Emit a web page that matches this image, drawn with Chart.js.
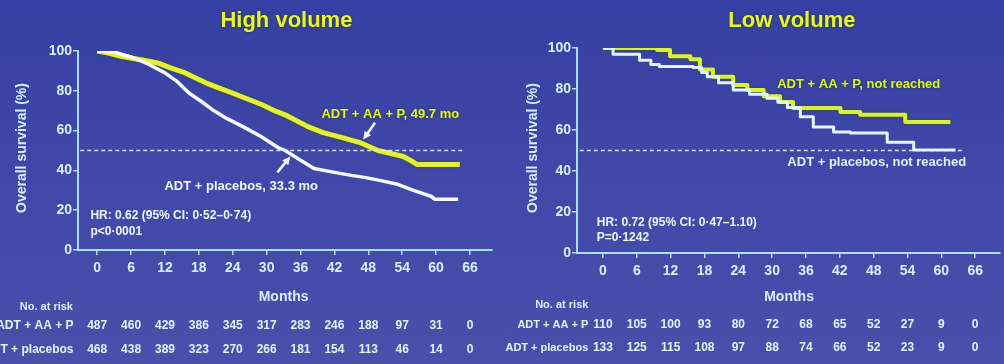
<!DOCTYPE html>
<html>
<head>
<meta charset="utf-8">
<script src="https://cdn.jsdelivr.net/npm/chart.js@4.4.1/dist/chart.umd.min.js"></script>
<style>
  html, body { margin: 0; padding: 0; }
  body {
    width: 1004px; height: 364px; overflow: hidden; position: relative;
    background: linear-gradient(180deg, #363fa3 0%, #4047a8 45%, #4b4fab 100%);
  }
  .half { position: absolute; top: 0; width: 502px; height: 364px; }
</style>
</head>
<body>
<div class="half" style="left:0"><canvas id="hv" width="502" height="364"></canvas></div>
<div class="half" style="left:502px"><canvas id="lv" width="502" height="364"></canvas></div>
<script>
// KM 曲线数据（月, 生存率%）
const xTicks = [0, 6, 12, 18, 24, 30, 36, 42, 48, 54, 60, 66];
const yTicks = [0, 20, 40, 60, 80, 100];
const refLine = 50;

// High volume
const hvAbiX = [0, 2, 4, 5.9, 8, 10.7, 13, 15.6, 19.2, 21.5, 23.8, 26.5, 29.2, 31.4, 33.6, 37.3, 40, 43.4, 46.5, 49.7, 52, 54.2, 55.5, 56.6, 64.2];
const hvAbiY = [100, 99, 97.5, 96.5, 95.5, 94, 91.5, 89, 84, 81.5, 79, 76, 73, 70, 67.5, 62, 59, 56.5, 54, 50, 48.5, 47, 45, 43, 43];
const hvPboX = [0, 3, 6, 9, 12, 14, 16.2, 18.5, 20.4, 23, 25.8, 29, 32, 33.3, 35.5, 38.4, 42, 45, 47.3, 50, 53.2, 56, 59.1, 59.8, 63.9];
const hvPboY = [100, 99.5, 97, 93.5, 89, 85, 79, 74.5, 70.5, 66, 62, 57, 51.5, 50, 46, 41, 39, 37.5, 36.5, 35, 33, 30, 27, 25.5, 25.5];
const hvRiskAbi = [487, 460, 429, 386, 345, 317, 283, 246, 188, 97, 31, 0];
const hvRiskPbo = [468, 438, 389, 323, 270, 266, 181, 154, 113, 46, 14, 0];

// Low volume
const lvAbiX = [0, 9.6, 11.9, 15.5, 17.2, 19.5, 23.1, 25.6, 28.5, 31.4, 33.7, 42.1, 45.6, 53.6, 61.6];
const lvAbiY = [100, 99, 96, 94.5, 89.5, 86, 82, 79.5, 76.5, 73.7, 70.7, 68.8, 67.5, 63.9, 63.9];
const lvPboX = [0, 1.8, 6.5, 8.5, 10, 16, 17.5, 18.5, 20.5, 23.1, 26, 29.1, 31, 32.7, 35, 37.3, 40.9, 43.9, 50.4, 55.1, 62.5];
const lvPboY = [100, 97, 94, 92, 91, 90.5, 88, 86, 83, 79.5, 77.5, 75.5, 73.5, 71, 66.5, 61.5, 59, 58.5, 54, 50.2, 50.2];
const lvRiskAbi = [110, 105, 100, 93, 80, 72, 68, 65, 52, 27, 9, 0];
const lvRiskPbo = [133, 125, 115, 108, 97, 88, 74, 66, 52, 23, 9, 0];

const FONT = "'Liberation Sans', Arial, sans-serif";
const AXIS = '#a9def0';
const TXT = '#d4effa';

const pts = (xs, ys) => xs.map((x, i) => ({ x, y: ys[i] }));

// 文字、箭头、风险表
const slidePlugin = {
  id: 'slide',
  beforeDatasetDraw(chart, args) {
    const ds = chart.data.datasets[args.index];
    chart.ctx.save();
    if (ds.glow) {
      chart.ctx.shadowColor = ds.glow;
      chart.ctx.shadowBlur = 3;
    }
  },
  afterDatasetDraw(chart) {
    chart.ctx.restore();
  },
  afterDraw(chart, args, o) {
    const { ctx, scales: { x, y } } = chart;
    const put = (text, px, py, color, size, align, glow) => {
      ctx.save();
      ctx.font = 'bold ' + size + 'px ' + FONT;
      ctx.fillStyle = color;
      ctx.textAlign = align || 'center';
      ctx.textBaseline = 'middle';
      if (glow) { ctx.shadowColor = glow; ctx.shadowBlur = 3; }
      ctx.fillText(text, px, py);
      ctx.restore();
    };

    // 标题
    put(o.title, x.getPixelForValue(33.5), 21, '#e6f23c', 22, 'center', 'rgba(40,70,0,0.95)');

    // 坐标轴标题
    put('Months', x.getPixelForValue(33), 297, TXT, 14);
    ctx.save();
    ctx.translate(o.yTitleX, 148);
    ctx.rotate(-Math.PI / 2);
    put('Overall survival (%)', 0, 0, TXT, 14);
    ctx.restore();

    // 曲线标注
    o.notes.forEach(n => put(n.text, x.getPixelForValue(n.m), y.getPixelForValue(n.v), n.color, n.size || 13, n.align, n.glow));

    // 箭头
    (o.arrows || []).forEach(a => {
      const x1 = x.getPixelForValue(a.from[0]), y1 = y.getPixelForValue(a.from[1]);
      const x2 = x.getPixelForValue(a.to[0]), y2 = y.getPixelForValue(a.to[1]);
      const ang = Math.atan2(y2 - y1, x2 - x1);
      ctx.save();
      ctx.strokeStyle = '#f4f8ff';
      ctx.fillStyle = '#f4f8ff';
      ctx.lineWidth = 2.5;
      ctx.beginPath();
      ctx.moveTo(x1, y1);
      ctx.lineTo(x2 - 5 * Math.cos(ang), y2 - 5 * Math.sin(ang));
      ctx.stroke();
      ctx.beginPath();
      ctx.moveTo(x2, y2);
      ctx.lineTo(x2 - 9 * Math.cos(ang - 0.45), y2 - 9 * Math.sin(ang - 0.45));
      ctx.lineTo(x2 - 9 * Math.cos(ang + 0.45), y2 - 9 * Math.sin(ang + 0.45));
      ctx.closePath();
      ctx.fill();
      ctx.restore();
    });

    // No. at risk
    const r = o.risk;
    put('No. at risk', x.getPixelForValue(r.headM), r.headY, TXT, 11);
    r.rows.forEach(row => {
      put(row.label, x.getPixelForValue(r.labelM), row.py, '#e2f2fb', r.labelSize, 'right');
      row.values.forEach((v, i) => put(String(v), x.getPixelForValue(xTicks[i]), row.py, '#e2f2fb', 12));
    });
  }
};

function makeChart(id, cfg) {
  return new Chart(document.getElementById(id), {
    type: 'line',
    data: {
      datasets: [
        {
          data: pts(cfg.refX, cfg.refX.map(() => refLine)),
          borderColor: 'rgba(225,240,255,0.9)',
          borderWidth: 1.5,
          borderDash: [4, 3],
          pointRadius: 0,
        },
        {
          data: cfg.pbo,
          borderColor: cfg.pboColor,
          borderWidth: cfg.pboWidth,
          stepped: cfg.stepped,
          pointRadius: 0,
          borderJoinStyle: 'round',
        },
        {
          data: cfg.abi,
          borderColor: cfg.abiColor,
          borderWidth: cfg.abiWidth,
          stepped: cfg.stepped,
          pointRadius: 0,
          borderJoinStyle: 'round',
          glow: 'rgba(50,90,0,0.95)',
        },
      ]
    },
    options: {
      responsive: false,
      animation: false,
      layout: { padding: { top: cfg.top, right: cfg.right, left: 0, bottom: 0 } },
      plugins: {
        legend: { display: false },
        tooltip: { enabled: false },
        slide: cfg.text,
      },
      scales: {
        x: {
          type: 'linear',
          min: cfg.xMin,
          max: cfg.xMax,
          afterBuildTicks: s => { s.ticks = xTicks.map(v => ({ value: v })); },
          afterFit: s => { s.height = cfg.xh; },
          grid: { drawOnChartArea: false, drawTicks: true, tickLength: 5, color: AXIS, lineWidth: 1.5 },
          border: { display: true, color: AXIS, width: 2 },
          ticks: { color: TXT, font: { family: FONT, size: 14, weight: 'bold' }, padding: 5, maxRotation: 0, autoSkip: false },
        },
        y: {
          min: 0,
          max: 100,
          afterBuildTicks: s => { s.ticks = yTicks.map(v => ({ value: v })); },
          afterFit: s => { s.width = cfg.yw; },
          grid: { drawOnChartArea: false, drawTicks: true, tickLength: 5, color: AXIS, lineWidth: 1.5 },
          border: { display: true, color: AXIS, width: 2 },
          ticks: { color: TXT, font: { family: FONT, size: 14, weight: 'bold' }, padding: 1 },
        }
      }
    },
    plugins: [slidePlugin]
  });
}

makeChart('hv', {
  top: 51, right: 10, xh: 114, yw: 78, xMin: -3.4, xMax: 69.9,
  refX: [-3, 65.1],
  abi: pts(hvAbiX, hvAbiY), pbo: pts(hvPboX, hvPboY),
  abiColor: '#e4ef3a', abiWidth: 5, pboColor: '#f6f9ff', pboWidth: 3.5, stepped: false,
  text: {
    title: 'High volume',
    yTitleX: 22,
    notes: [
      { text: 'ADT + AA + P, 49.7 mo', m: 51.9, v: 68, color: '#e4f03c', glow: 'rgba(40,70,0,0.95)' },
      { text: 'ADT + placebos, 33.3 mo', m: 25.5, v: 32, color: '#f2f7ff' },
      { text: 'HR: 0.62 (95% CI: 0·52–0·74)', m: -1.2, v: 17, color: '#eef5ff', size: 12, align: 'left' },
      { text: 'p<0·0001', m: -1.2, v: 9, color: '#eef5ff', size: 12, align: 'left' },
    ],
    arrows: [
      { from: [49.2, 64], to: [47.1, 55.5] },
      { from: [31.9, 39], to: [34.2, 47] },
    ],
    risk: {
      headM: -9, headY: 307, labelM: -4.2, labelSize: 12,
      rows: [
        { label: 'ADT + AA + P', values: hvRiskAbi, py: 326 },
        { label: 'ADT + placebos', values: hvRiskPbo, py: 350 },
      ]
    }
  }
});

makeChart('lv', {
  top: 48, right: 4, xh: 111, yw: 75, xMin: -4.6, xMax: 70.4,
  refX: [-4.1, 64],
  abi: pts(lvAbiX, lvAbiY), pbo: pts(lvPboX, lvPboY),
  abiColor: '#d8ef3e', abiWidth: 4, pboColor: '#e2f5ff', pboWidth: 3, stepped: true,
  text: {
    title: 'Low volume',
    yTitleX: 31,
    notes: [
      { text: 'ADT + AA + P, not reached', m: 30.9, v: 82, color: '#d8f040', align: 'left', glow: 'rgba(40,70,0,0.95)' },
      { text: 'ADT + placebos, not reached', m: 32.7, v: 44, color: '#dcf2ff', align: 'left' },
      { text: 'HR: 0.72 (95% CI: 0·47–1.10)', m: -1.1, v: 14.6, color: '#eef5ff', size: 12, align: 'left' },
      { text: 'P=0·1242', m: -1.1, v: 7.3, color: '#eef5ff', size: 12, align: 'left' },
    ],
    risk: {
      headM: -7.3, headY: 305, labelM: -2.6, labelSize: 11,
      rows: [
        { label: 'ADT + AA + P', values: lvRiskAbi, py: 325 },
        { label: 'ADT + placebos', values: lvRiskPbo, py: 348 },
      ]
    }
  }
});
</script>
</body>
</html>
